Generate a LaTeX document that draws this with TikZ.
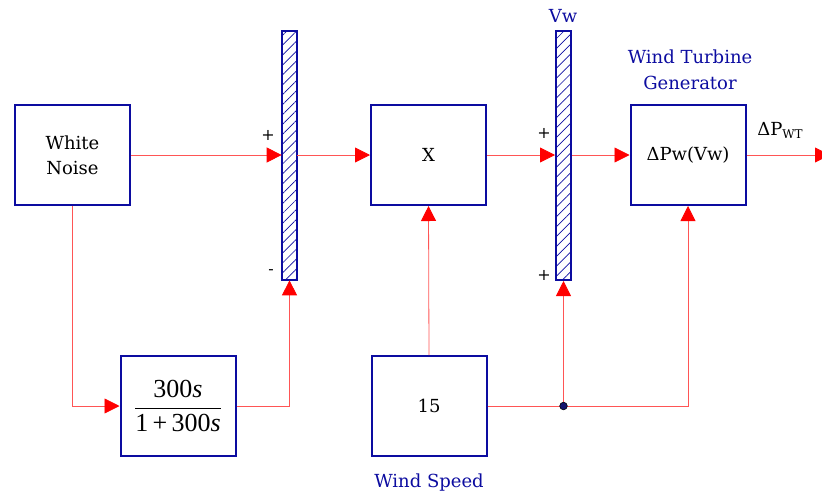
\documentclass[tikz,border=0pt]{standalone}
\usepackage{fontspec}
\setmainfont{DejaVu Serif}
\newfontfamily\timesfont{Liberation Serif}
\usepackage{amsmath}
\usetikzlibrary{arrows.meta, patterns.meta, positioning}
\definecolor{boxblue}{RGB}{12,12,160}
\definecolor{wirered}{RGB}{255,85,85}
\definecolor{tipred}{RGB}{255,0,0}
\definecolor{dotblue}{RGB}{20,20,110}

\begin{document}
\begin{tikzpicture}[
    x=1pt, y=-1pt,
    block/.style={draw=boxblue, line width=2pt, minimum width=115pt, minimum height=100pt,
        align=center, font=\fontsize{18}{25}\selectfont},
    sumbar/.style={draw=boxblue, line width=2pt, minimum width=15pt, minimum height=249pt,
        inner sep=0pt, pattern={Lines[angle=45, distance=7pt, line width=0.7pt]}, pattern color=boxblue},
    wire/.style={draw=wirered, line width=0.8pt},
    sig/.style={wire, -{Triangle[length=15pt, width=15pt, color=tipred]}},
    sign/.style={font=\fontsize{16}{16}\selectfont, inner sep=0pt},
    caption/.style={text=boxblue, align=center, font=\fontsize{18}{26}\selectfont}
]
\useasboundingbox (0,0) rectangle (822,496);

% --- Bloecke ---
\node[block] (noise) at (72.5,155) {White\\Noise};
\node[block] (filt)  at (178,406) {\timesfont\fontsize{26}{26}\selectfont
    $\dfrac{\mbox{300\textit{s}}}{\mbox{1\,+\,300\textit{s}}}$};
\node[block] (mult)  at (428.5,155) {X};
\node[block] (speed) at (429,406) {15};
\node[block] (wtg)   at (688,155) {ΔPw(Vw)};

% --- Summierer ---
\node[sumbar] (sumA) at (289.5,155.5) {};
\node[sumbar] (sumB) at (563.5,155.5) {};

% --- Beschriftungen ---
\node[sign] (pA1) at (268,135) {+};
\node[sign] (mA2) at (271,272) {-};
\node[sign] (pB1) at (544,133) {+};
\node[sign] (pB2) at (544,275) {+};
\node[caption] (vwlab)  at (563,16) {Vw};
\node[caption] (wtglab) at (690,70) {Wind Turbine\\Generator};
\node[caption, below=13pt of speed] (speedlab) {Wind Speed};
\node[font=\fontsize{18}{18}\selectfont] (pout) at (780,130)
    {ΔP\raisebox{-3pt}{\fontsize{12}{12}\selectfont WT}};

% --- Verbindungen ---
\coordinate (outend) at (830,155);
\coordinate (jn) at (speed.east -| sumB.south);

\draw[sig] (noise.east) -- (noise.east -| sumA.west);
\draw[sig] (noise.south) |- (filt.west);
\draw[sig] (filt.east) -| (sumA.south);
\draw[sig] (sumA.east |- noise.east) -- (mult.west);
\draw[sig] (mult.east) -- (mult.east -| sumB.west);
\draw[sig] (sumB.east |- mult.east) -- (wtg.west);
\draw[sig] (wtg.east) -- (outend);
\draw[sig] (speed.north) -- (mult.south);
\draw[sig] (speed.east) -| (wtg.south);
\draw[sig] (jn) -- (sumB.south);
\filldraw[fill=dotblue, draw=black, line width=0.6pt] (jn) circle (3.8pt);

\end{tikzpicture}
\end{document}
